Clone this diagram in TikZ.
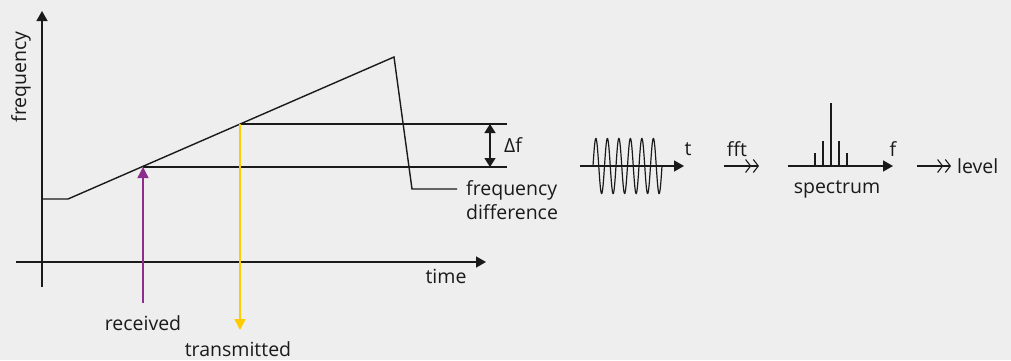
\documentclass[tikz,border=0pt]{standalone}
\usepackage{fontspec}
\setmainfont{Open Sans}
\usetikzlibrary{arrows.meta}
\definecolor{bg}{HTML}{EEEEEE}
\definecolor{ink}{HTML}{1A1A1A}
\definecolor{rxpurple}{HTML}{8E2C8E}
\definecolor{txyellow}{HTML}{FFCC00}
\tikzset{
  ln/.style={draw=ink, line width=1.4pt},
  axis/.style={draw=ink, line width=1.6pt, -{Triangle[length=10pt,width=11pt]}},
  lbl/.style={font=\fontsize{19.5}{24}\selectfont, text=ink, inner sep=0pt},
  dbl/.style={draw=ink, line width=1.3pt, -{Straight Barb[length=5pt,width=13pt,line width=1.1pt,sep=1.5pt]Straight Barb[length=5pt,width=13pt,line width=1.1pt]}},
}
\begin{document}
\begin{tikzpicture}[x=1pt,y=-1pt]
\fill[bg] (0,0) rectangle (1011,360);
\useasboundingbox (0,0) rectangle (1011,360);
% axes
\coordinate (yb) at (42,287);
\coordinate (yt) at (42,11);
\coordinate (xl) at (16,262);
\coordinate (xr) at (486,262);
\draw[axis] (yb) -- (yt);
\draw[axis] (xl) -- (xr);
\node[lbl, rotate=90] (flab) at (21,77) {frequency};
\node[lbl] (tlab) at (446,276) {time};
% chirp
\coordinate (c0) at (42,199);
\coordinate (c1) at (68,199);
\coordinate (c2) at (394,57);
\coordinate (c3) at (412,189);
\coordinate (c4) at (457,189);
\draw[ln] (c0) -- (c1) -- (c2) -- (c3) -- (c4);
\node[lbl, anchor=west, align=left] (fdiff) at (466,200) {frequency\\difference};
% levels
\coordinate (rx) at (143,167);
\coordinate (tx) at (240,124);
\coordinate (rxe) at (507,167);
\coordinate (txe) at (507,124);
\draw[ln] (rx) -- (rxe);
\draw[ln] (tx) -- (txe);
\coordinate (da) at (490,124);
\coordinate (db) at (490,167);
\draw[draw=ink, line width=1.4pt, {Triangle[length=9pt,width=11pt]}-{Triangle[length=9pt,width=11pt]}] (da) -- (db);
\node[lbl, anchor=west] (df) at (504,145) {Δf};
% received / transmitted
\coordinate (rxs) at (143,303);
\draw[draw=rxpurple, line width=1.4pt, -{Triangle[length=11pt,width=11pt]}] (rxs) -- (rx);
\node[lbl] (rlab) at (143,323) {received};
\coordinate (txt) at (240,330);
\draw[draw=txyellow, line width=1.4pt, -{Triangle[length=11pt,width=11pt]}] (tx) -- (txt);
\node[lbl] (tlab2) at (238,349) {transmitted};
% time signal
\coordinate (sl) at (580,166);
\coordinate (sr) at (684,166);
\draw[axis, line width=1.4pt] (sl) -- (sr);
\draw[ln, line width=1.2pt, domain=0:6, samples=300, smooth] plot ({593+11.5*\x},{166-27.5*sin(\x*360)});
\node[lbl] (tt) at (688,149) {t};
% fft arrow
\coordinate (fa) at (724,166);
\coordinate (fb) at (759,166);
\draw[dbl] (fa) -- (fb);
\node[lbl] (fft) at (737,149) {fft};
% spectrum
\coordinate (pl) at (788,166);
\coordinate (pr) at (893,166);
\draw[axis, line width=1.4pt] (pl) -- (pr);
\draw[ln, line width=1.2pt] (815,166) -- (815,153);
\draw[ln, line width=1.2pt] (823,166) -- (823,141);
\draw[ln, line width=1.2pt] (831,166) -- (831,103);
\draw[ln, line width=1.2pt] (839,166) -- (839,141);
\draw[ln, line width=1.2pt] (847,166) -- (847,153);
\node[lbl] (ff) at (893,149) {f};
\node[lbl] (spec) at (837,189) {spectrum};
% level
\coordinate (la) at (917,166);
\coordinate (lb) at (951,166);
\draw[dbl] (la) -- (lb);
\node[lbl, anchor=west] (lev) at (957,166) {level};
\end{tikzpicture}
\end{document}
